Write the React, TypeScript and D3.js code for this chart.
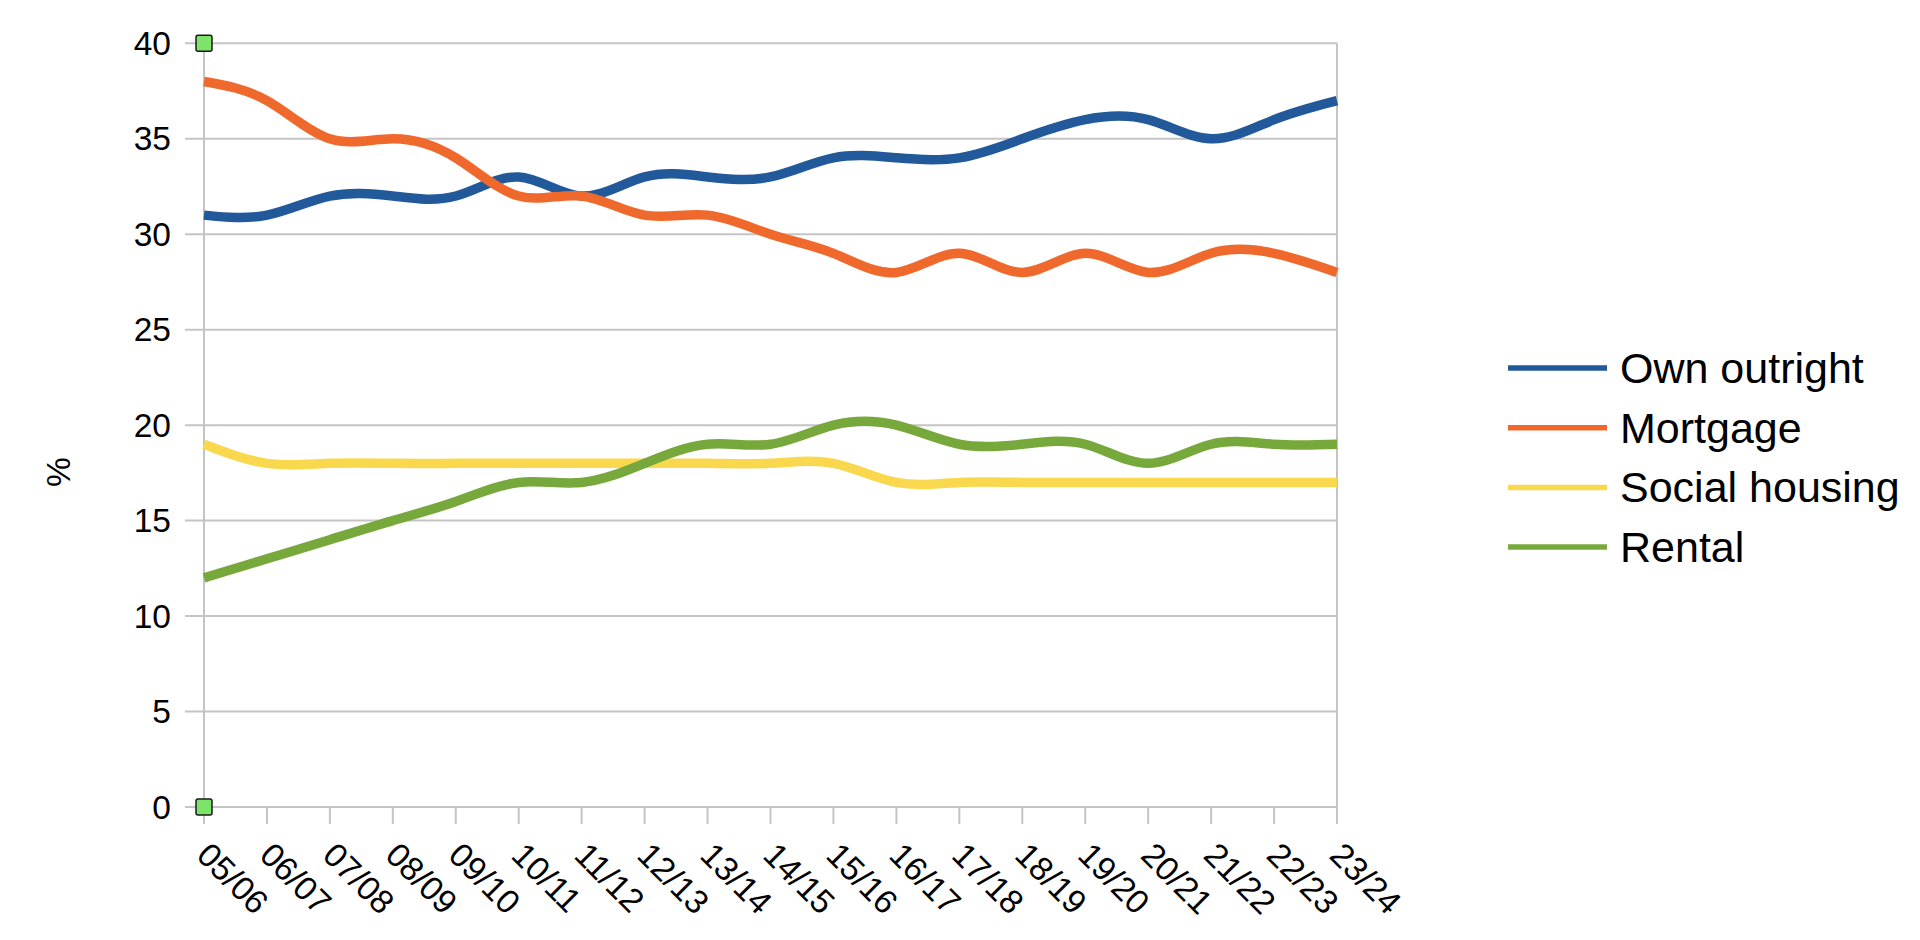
import React from "react";
import * as d3 from "d3";

const categories = ["05/06","06/07","07/08","08/09","09/10","10/11","11/12","12/13","13/14","14/15","15/16","16/17","17/18","18/19","19/20","20/21","21/22","22/23","23/24"];
const ownOutright = [31,31,32,32,32,33,32,33,33,33,34,34,34,35,36,36,35,36,37];
const mortgage = [38,37,35,35,34,32,32,31,31,30,29,28,29,28,29,28,29,29,28];
const socialHousing = [19,18,18,18,18,18,18,18,18,18,18,17,17,17,17,17,17,17,17];
const rental = [12,13,14,15,16,17,17,18,19,19,20,20,19,19,19,18,19,19,19];
const yTicks = [0,5,10,15,20,25,30,35,40];
const seriesNames = ["Own outright","Mortgage","Social housing","Rental"];
const seriesValues = [ownOutright, mortgage, socialHousing, rental];
const seriesColors = ["#22599a","#f0692c","#f9d84e","#77a83c"];

const W = 1920, H = 940;
const plot = { left: 204, right: 1337, top: 43.3, bottom: 807 };
const FONT = "'Liberation Sans', Arial, sans-serif";

export default function App() {
  const x = d3.scalePoint<string>().domain(categories).range([plot.left, plot.right]);
  const y = d3.scaleLinear().domain([0, 40]).range([plot.bottom, plot.top]);
  const line = d3.line<number>()
    .x((_, i) => x(categories[i]) as number)
    .y(d => y(d))
    .curve(d3.curveNatural);
  const grid = "#c4c4c4";
  return (
    <svg width={W} height={H} style={{ position: "absolute", left: 0, top: 0, background: "#fff" }} fontFamily={FONT}>
      {yTicks.map(t => (
        <g key={t}>
          <line x1={plot.left - 19} x2={plot.right} y1={y(t)} y2={y(t)} stroke={grid} strokeWidth={2} />
          <text x={171} y={y(t)} textAnchor="end" dominantBaseline="central" fontSize={33.5} fill="#000">{t}</text>
        </g>
      ))}
      <line x1={plot.left} x2={plot.left} y1={plot.top} y2={plot.bottom + 17} stroke={grid} strokeWidth={2} />
      <line x1={plot.right} x2={plot.right} y1={plot.top} y2={plot.bottom + 17} stroke={grid} strokeWidth={2} />
      {categories.map(c => (
        <g key={c}>
          <line x1={x(c)} x2={x(c)} y1={plot.bottom} y2={plot.bottom + 17} stroke={grid} strokeWidth={2} />
          <text transform={`translate(${(x(c) as number) - 9},${857}) rotate(45)`} fontSize={33.5} fill="#000">{c}</text>
        </g>
      ))}
      <text transform={`translate(${70},${472}) rotate(-90)`} textAnchor="middle" fontSize={33.5} fill="#000">%</text>
      {seriesValues.map((vals, i) => (
        <path key={i} d={line(vals) || ""} fill="none" stroke={seriesColors[i]} strokeWidth={9.5} strokeLinejoin="round" />
      ))}
      <rect x={plot.left - 8} y={plot.top - 8} width={16} height={16} rx={2} fill="#7de36a" stroke="#1a1a1a" strokeWidth={1.5} />
      <rect x={plot.left - 8} y={plot.bottom - 8} width={16} height={16} rx={2} fill="#7de36a" stroke="#1a1a1a" strokeWidth={1.5} />
      {seriesNames.map((n, i) => {
        const ly = 368 + i * 59.7;
        return (
          <g key={n}>
            <line x1={1508} x2={1607} y1={ly} y2={ly} stroke={seriesColors[i]} strokeWidth={5.5} />
            <text x={1620} y={ly} dominantBaseline="central" fontSize={43} fill="#000">{n}</text>
          </g>
        );
      })}
    </svg>
  );
}
